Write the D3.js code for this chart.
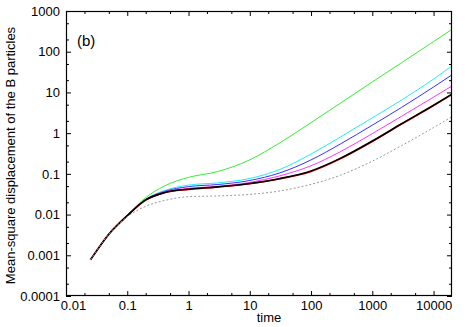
<!DOCTYPE html>
<html>
<head>
    <meta charset='utf-8'>
    <title>MSD B particles</title>
    <style type="text/css">
        body { margin: 0; background: #fff; }
        svg { font-family: "Liberation Sans", Arial, sans-serif; }
        .axis path { display: none; }
        .axis line { stroke: #000; stroke-width: 1; }
        .axis text { font-size: 13px; fill: #000; }
        .curve { fill: none; }
    </style>
</head>
<body>
    <script src="https://cdn.jsdelivr.net/npm/d3@7"></script>

    <div id="svgContainer"></div>

    <script type="text/javascript">

        const width = 467;
        const height = 327;
        const margin = {top: 11, right: 15, bottom: 31, left: 66};

        // time points and mean-square displacement of each run
        const times = [0.025, 0.05, 0.1, 0.2, 0.4, 1, 3, 10, 30, 100, 300, 1000, 3000, 10000, 20000];
        const msdGreen   = [0.00077, 0.0033, 0.0097, 0.026, 0.05, 0.082, 0.114, 0.221, 0.562, 1.81, 5.42, 18.1, 53.6, 177, 355];
        const msdCyan    = [0.00077, 0.0033, 0.0094, 0.024, 0.0386, 0.053, 0.06, 0.077, 0.126, 0.307, 0.80, 2.37, 6.5, 21.2, 45];
        const msdBlue    = [0.00077, 0.0033, 0.0094, 0.0235, 0.037, 0.0485, 0.0547, 0.0687, 0.104, 0.22, 0.54, 1.57, 4.28, 13.6, 27];
        const msdMagenta = [0.00077, 0.0033, 0.0094, 0.023, 0.036, 0.044, 0.0495, 0.0615, 0.0883, 0.158, 0.349, 0.973, 2.59, 7.66, 14.4];
        const msdRed     = [0.00077, 0.0033, 0.0094, 0.0228, 0.0343, 0.0415, 0.0476, 0.0572, 0.0748, 0.115, 0.235, 0.625, 1.67, 4.75, 8.95];
        const msdBlack   = [0.00077, 0.0033, 0.0094, 0.0229, 0.0345, 0.042, 0.048, 0.058, 0.076, 0.118, 0.24, 0.64, 1.7, 4.85, 9.1];
        const msdGray    = [0.00077, 0.0033, 0.0088, 0.016, 0.022, 0.0275, 0.0287, 0.0313, 0.0377, 0.0553, 0.0923, 0.205, 0.493, 1.37, 2.53];

        const xTicks = [0.01, 0.1, 1, 10, 100, 1000, 10000];
        const xTickLabels = ["0.01", "0.1", "1", "10", "100", "1000", "10000"];
        const yTicks = [0.0001, 0.001, 0.01, 0.1, 1, 10, 100, 1000];
        const yTickLabels = ["0.0001", "0.001", "0.01", "0.1", "1", "10", "100", "1000"];
        const minorSteps = [2, 5];

        const series = [
            {values: msdGreen, color: "#33ee33", w: 1, dash: null},
            {values: msdCyan, color: "#22eeee", w: 1, dash: null},
            {values: msdBlue, color: "#3333ff", w: 1, dash: null},
            {values: msdMagenta, color: "#ff33ff", w: 1, dash: null},
            {values: msdRed, color: "#ff0000", w: 1.6, dash: null},
            {values: msdBlack, color: "#000000", w: 1.6, dash: null},
            {values: msdGray, color: "#999999", w: 1, dash: "2,2"}
        ];

        const svg = d3.select("#svgContainer").append("svg")
            .attr("width", width)
            .attr("height", height);

        const x = d3.scaleLog().domain([0.01, 20000]).range([margin.left, width - margin.right]);
        const y = d3.scaleLog().domain([0.0001, 1000]).range([height - margin.bottom, margin.top]);

        function minors(domain) {
            const out = [];
            for (let p = Math.floor(Math.log10(domain[0])); p < Math.ceil(Math.log10(domain[1])); p++) {
                minorSteps.forEach(m => {
                    const v = m * Math.pow(10, p);
                    if (v > domain[0] && v < domain[1]) out.push(v);
                });
            }
            return out;
        }

        const xMinor = minors(x.domain());
        const yMinor = minors(y.domain());
        const bottom = height - margin.bottom;
        const right = width - margin.right;

        // major ticks with labels
        const xAxis = svg.append("g").attr("class", "axis")
            .attr("transform", `translate(0,${bottom})`)
            .call(d3.axisBottom(x).tickValues(xTicks).tickSize(-5).tickPadding(5)
                .tickFormat((d, i) => xTickLabels[i]));
        // first label sits right of its tick so it clears "0.0001"
        xAxis.selectAll(".tick text").filter((d, i) => i === 0).attr("dx", 7);

        svg.append("g").attr("class", "axis")
            .attr("transform", `translate(${margin.left},0)`)
            .call(d3.axisLeft(y).tickValues(yTicks).tickSize(-5).tickPadding(6)
                .tickFormat((d, i) => yTickLabels[i]));

        // mirrored ticks
        svg.append("g").attr("class", "axis")
            .attr("transform", `translate(0,${margin.top})`)
            .call(d3.axisTop(x).tickValues(xTicks).tickSize(-5).tickFormat(""));
        svg.append("g").attr("class", "axis")
            .attr("transform", `translate(${right},0)`)
            .call(d3.axisRight(y).tickValues(yTicks).tickSize(-5).tickFormat(""));

        // minor ticks on all sides
        svg.append("g").attr("class", "axis").attr("transform", `translate(0,${bottom})`)
            .call(d3.axisBottom(x).tickValues(xMinor).tickSize(-3).tickFormat(""));
        svg.append("g").attr("class", "axis").attr("transform", `translate(0,${margin.top})`)
            .call(d3.axisTop(x).tickValues(xMinor).tickSize(-3).tickFormat(""));
        svg.append("g").attr("class", "axis").attr("transform", `translate(${margin.left},0)`)
            .call(d3.axisLeft(y).tickValues(yMinor).tickSize(-3).tickFormat(""));
        svg.append("g").attr("class", "axis").attr("transform", `translate(${right},0)`)
            .call(d3.axisRight(y).tickValues(yMinor).tickSize(-3).tickFormat(""));

        svg.append("defs").append("clipPath").attr("id", "clip")
            .append("rect")
            .attr("x", margin.left).attr("y", margin.top)
            .attr("width", right - margin.left).attr("height", bottom - margin.top);

        const line = d3.line()
            .x(d => x(d[0]))
            .y(d => y(d[1]))
            .curve(d3.curveMonotoneX);

        svg.append("g").attr("clip-path", "url(#clip)")
            .selectAll("path")
            .data(series)
            .join("path")
            .attr("class", "curve")
            .attr("d", s => line(times.map((t, i) => [t, s.values[i]])))
            .attr("stroke", s => s.color)
            .attr("stroke-width", s => s.w)
            .attr("stroke-dasharray", s => s.dash);

        // frame
        svg.append("rect")
            .attr("x", margin.left + 0.5).attr("y", margin.top + 0.5)
            .attr("width", right - margin.left - 1).attr("height", bottom - margin.top - 1)
            .attr("fill", "none").attr("stroke", "#000").attr("stroke-width", 1.2);

        svg.append("text")
            .attr("x", (margin.left + right) / 2 + 10)
            .attr("y", 322)
            .attr("text-anchor", "middle")
            .style("font-size", "13px")
            .text("time");

        svg.append("text")
            .attr("transform", `translate(15,${(margin.top + bottom) / 2 + 2}) rotate(-90)`)
            .attr("text-anchor", "middle")
            .style("font-size", "13px")
            .text("Mean-square displacement of the B particles");

        svg.append("text")
            .attr("x", 77).attr("y", 46)
            .style("font-size", "15px")
            .text("(b)");

    </script>
</body>
</html>
